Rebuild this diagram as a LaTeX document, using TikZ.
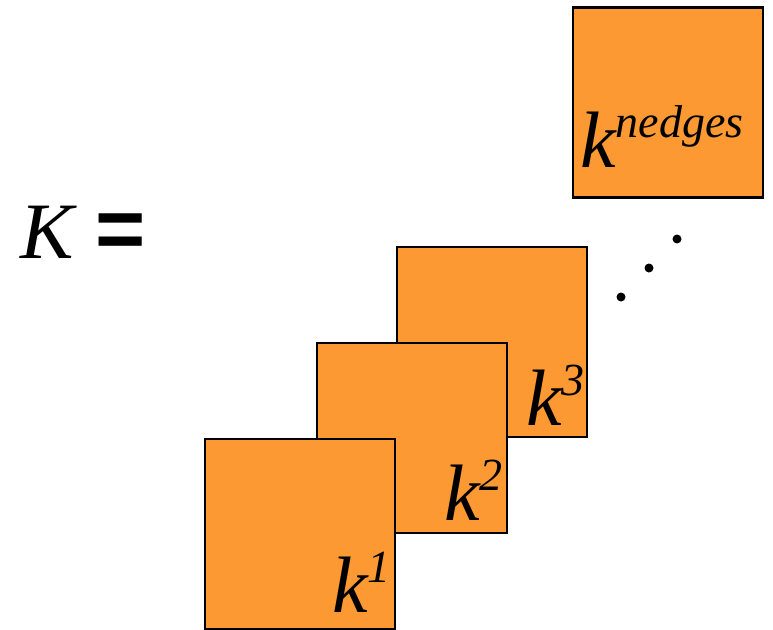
\documentclass[tikz,border=0pt]{standalone}
\usepackage{fontspec}
\setmainfont{Liberation Serif}
\newfontfamily\eqfont{Liberation Sans}
\usepackage{tikz}
\usetikzlibrary{positioning}
\definecolor{kfill}{RGB}{252,153,51}
\tikzset{sq/.style={draw=black,fill=kfill,line width=2.2pt,minimum size=190pt,inner sep=0pt},
         lbl/.style={inner sep=0pt,font=\fontsize{80}{80}\selectfont\itshape},
         dot/.style={circle,fill=black,inner sep=0pt,minimum size=9pt}}
\newcommand{\kpow}[1]{k\raisebox{30pt}{\fontsize{46}{46}\selectfont #1}}

\begin{document}
\begin{tikzpicture}[x=1pt,y=-1pt]
\useasboundingbox (0,0) rectangle (773,629);
% left hand side
\node[lbl,anchor=base west] (K) at (20,258) {K};
\node[inner sep=0pt,font=\fontsize{86}{86}\selectfont\eqfont\bfseries,right=22pt of K.base east,anchor=base west] (eq) {=};
% the stack of matrices
\node[sq] (sqn) at (668,102.5) {};
\node[sq] (sq3) at (492,342) {};
\node[sq] (sq2) at (412,438) {};
\node[sq] (sq1) at (300,534) {};
\node[lbl,anchor=base west] (ln) at ([xshift=8pt,yshift=31pt]sqn.south west) {\kpow{nedges}};
\node[lbl,anchor=base east] (l3) at ([xshift=-3pt,yshift=13pt]sq3.south east) {\kpow{3}};
\node[lbl,anchor=base east] (l2) at ([xshift=-5pt,yshift=14pt]sq2.south east) {\kpow{2}};
\node[lbl,anchor=base east] (l1) at ([xshift=-5pt,yshift=18pt]sq1.south east) {\kpow{1}};
% dots
\node[dot] (d1) at (621,297) {};
\node[dot] (d2) at (649,268) {};
\node[dot] (d3) at (677,239) {};
\end{tikzpicture}
\end{document}
